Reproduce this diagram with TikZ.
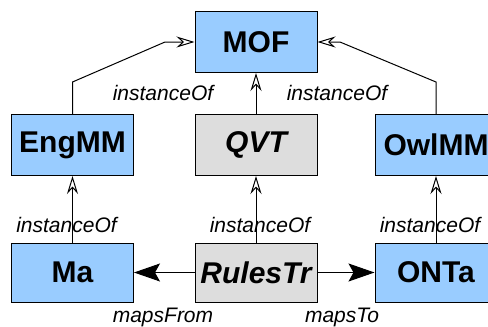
\documentclass[tikz,border=0pt]{standalone}
\usepackage{fontspec}
\setmainfont{Liberation Sans}
\usetikzlibrary{arrows.meta,positioning}
\definecolor{mmblue}{RGB}{153,204,255}
\definecolor{trgray}{RGB}{221,221,221}

\begin{document}
\begin{tikzpicture}[
      x=1pt,y=-1pt,
      model/.style={draw=black,line width=1pt,fill=mmblue,inner sep=0pt,
                    minimum width=122pt,minimum height=61pt,
                    font=\fontsize{30}{32}\selectfont\bfseries},
      trans/.style={model,fill=trgray,
                    font=\fontsize{30}{32}\selectfont\bfseries\itshape},
      inst/.style={-{Stealth[open,length=18pt,width=11pt,inset=6pt]},line width=1pt},
      maps/.style={-{Stealth[length=26pt,width=18pt,inset=5pt]},line width=1pt},
      lbl/.style={font=\fontsize{21}{23}\selectfont\itshape}
    ]
    \clip (0,0) rectangle (488,327);

    \node[model] (mof) at (256,42) {MOF};
    \node[model] (eng) at (72.5,145) {EngMM};
    \node[trans] (qvt) at (256,145) {QVT};
    \node[model] (owl) at (436,145) {OwlMM};
    \node[model,minimum height=59pt] (ma) at (72.5,272.5) {Ma};
    \node[trans,minimum height=59pt] (rules) at (256,272.5) {RulesTr};
    \node[model,minimum height=59pt] (onta) at (436,272.5) {ONTa};

    % instanceOf links up to the meta level
    \coordinate (engbend) at (72.5,82);
    \coordinate (engknee) at (165,42);
    \coordinate (owlbend) at (436,82);
    \coordinate (owlknee) at (340,42);
    \draw[inst] (eng.north) -- (engbend) -- (engknee) -- (mof.west);
    \draw[inst] (owl.north) -- (owlbend) -- (owlknee) -- (mof.east);
    \draw[inst] (qvt) -- (mof);
    \draw[inst] (ma) -- (eng);
    \draw[inst] (rules) -- (qvt);
    \draw[inst] (onta) -- (owl);

    % mappings of the transformation
    \draw[maps] (rules) -- (ma);
    \draw[maps] (rules) -- (onta);

    \node[lbl] (ilt) at (163,93) {instanceOf};
    \node[lbl] (irt) at (337,93) {instanceOf};
    \node[lbl] (ilb) at (66.5,225) {instanceOf};
    \node[lbl] (imb) at (260,225) {instanceOf};
    \node[lbl] (irb) at (430,225) {instanceOf};
    \node[lbl] (from) at (163,317) {mapsFrom};
    \node[lbl] (to) at (342,317) {mapsTo};
  \end{tikzpicture}
\end{document}
